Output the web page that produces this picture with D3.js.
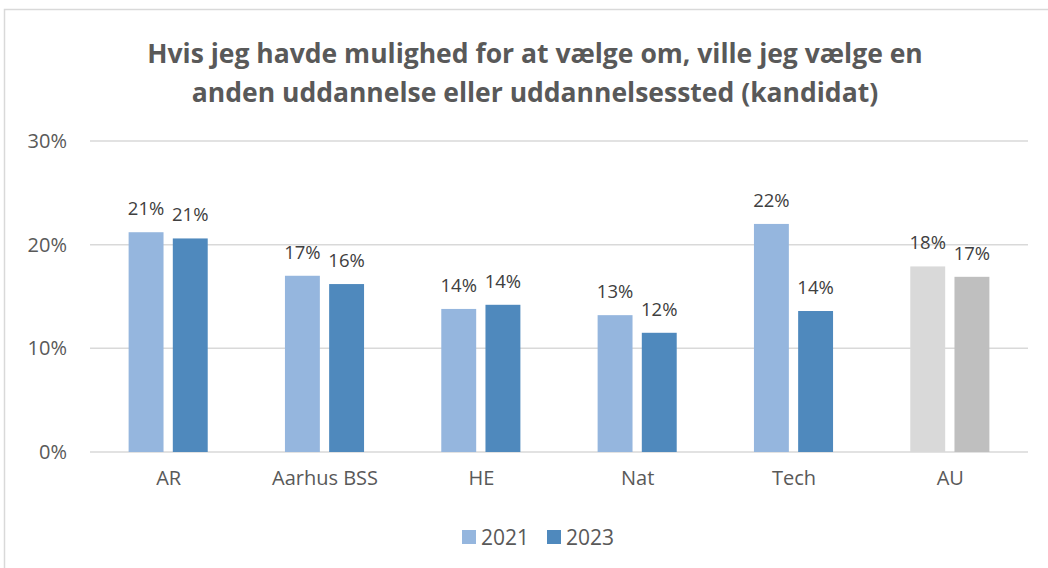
<!DOCTYPE html>
<html><head><meta charset="utf-8">
<script src="https://cdn.jsdelivr.net/npm/d3@7"></script>
<style>body{margin:0;background:#fff;overflow:hidden}svg{display:block}</style>
</head><body>
<svg id="c" width="1048" height="568"></svg>
<script>
const categories = ["AR", "Aarhus BSS", "HE", "Nat", "Tech", "AU"];
const seriesNames = ["2021", "2023"];
const values2021 = [0.212, 0.170, 0.138, 0.132, 0.220, 0.179];
const values2023 = [0.206, 0.162, 0.142, 0.115, 0.136, 0.169];
const labels2021 = ["21%", "17%", "14%", "13%", "22%", "18%"];
const labels2023 = ["21%", "16%", "14%", "12%", "14%", "17%"];
const yTicks = [0, 0.1, 0.2, 0.3];
const titleLines = ["Hvis jeg havde mulighed for at vælge om, ville jeg vælge en",
                    "anden uddannelse eller uddannelsessted (kandidat)"];

const colors = {"2021": "#95b6de", "2023": "#4f89bd"};
const auColors = {"2021": "#d9d9d9", "2023": "#bfbfbf"};
const font = "'Open Sans', sans-serif";

const svg = d3.select("#c");
svg.append("rect").attr("x", 4.5).attr("y", 9.5).attr("width", 1100).attr("height", 700)
  .attr("fill", "#fff").attr("stroke", "#d9d9d9").attr("stroke-width", 1.5);

const x0 = d3.scaleBand().domain(categories).range([90, 1028]).paddingInner(0.494).paddingOuter(0.247);
const x1 = d3.scaleBand().domain(seriesNames).range([0, x0.bandwidth()]).paddingInner(0.21);
const y = d3.scaleLinear().domain([0, 0.3]).range([452, 141]);

svg.append("g").selectAll("line").data(yTicks).join("line")
  .attr("x1", 90).attr("x2", 1028).attr("y1", d => y(d)).attr("y2", d => y(d))
  .attr("stroke", "#d9d9d9").attr("stroke-width", 1.5);

const yAxis = d3.axisLeft(y).tickValues(yTicks).tickFormat(d3.format(".0%")).tickSize(0).tickPadding(0);
const yg = svg.append("g").attr("transform", "translate(67,0)").call(yAxis);
yg.select(".domain").remove();
yg.selectAll("text").attr("font-family", font).attr("font-size", 20).attr("fill", "#595959");

const xAxis = d3.axisBottom(d3.scalePoint().domain(categories).range([x0.step()*0.5+90, 1028 - x0.step()*0.5])).tickSize(0).tickPadding(0);
const xg = svg.append("g").attr("transform", "translate(0,471)").call(xAxis);
xg.select(".domain").remove();
xg.selectAll("text").attr("font-family", font).attr("font-size", 20).attr("fill", "#595959");

const rows = categories.map((c, i) => ({cat: c, vals: [
  {s: "2021", v: values2021[i], l: labels2021[i]},
  {s: "2023", v: values2023[i], l: labels2023[i]}]}));

const groups = svg.append("g").selectAll("g").data(rows).join("g")
  .attr("transform", d => `translate(${x0(d.cat)},0)`);
groups.selectAll("rect").data(d => d.vals.map(v => ({...v, cat: d.cat}))).join("rect")
  .attr("x", d => x1(d.s)).attr("width", x1.bandwidth())
  .attr("y", d => y(d.v)).attr("height", d => y(0) - y(d.v))
  .attr("fill", d => d.cat === "AU" ? auColors[d.s] : colors[d.s]);
groups.selectAll("text").data(d => d.vals).join("text")
  .attr("x", d => x1(d.s) + x1.bandwidth()/2).attr("y", d => y(d.v) - 17)
  .attr("text-anchor", "middle").attr("font-family", font).attr("font-size", 18.5)
  .attr("fill", "#404040").text(d => d.l);

const t = svg.append("g");
titleLines.forEach((ln, i) => {
  t.append("text").attr("x", 535).attr("y", 63 + i*39).attr("text-anchor", "middle")
    .attr("font-family", font).attr("font-weight", "bold").attr("font-size", 26.5)
    .attr("fill", "#595959").text(ln);
});

const lg = svg.append("g").attr("transform", "translate(462,530)");
const items = lg.selectAll("g").data(seriesNames).join("g").attr("transform", (d, i) => `translate(${i*85},0)`);
items.append("rect").attr("width", 14).attr("height", 14).attr("fill", d => colors[d]);
items.append("text").attr("x", 19).attr("y", 15).attr("font-family", font).attr("font-size", 21)
  .attr("fill", "#595959").text(d => d);
</script>
</body></html>
